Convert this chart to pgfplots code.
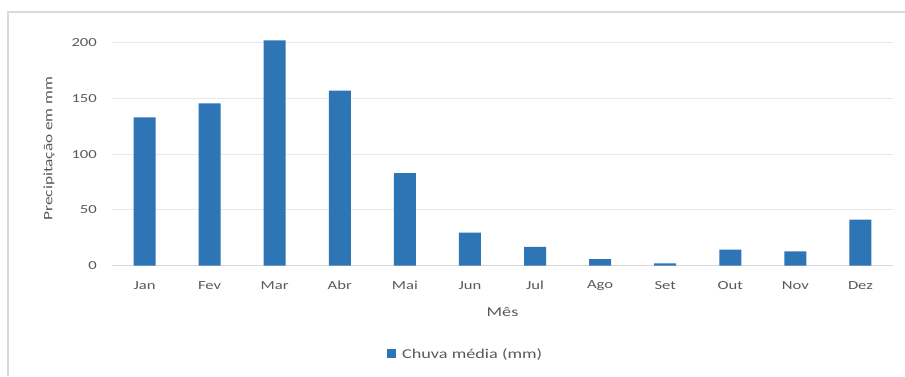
\documentclass[border=0pt]{standalone}
\usepackage{pgfplots}
\pgfplotsset{compat=1.18}
\usepackage{fontspec}
\setmainfont{Carlito}[FakeStretch=1.35]
\definecolor{barblue}{HTML}{2E75B6}
\definecolor{txtgray}{HTML}{595959}
\definecolor{gridgray}{HTML}{E8E8E8}
\definecolor{framegray}{HTML}{D9D9D9}
\begin{document}
\begin{tikzpicture}[x=1pt,y=1pt]
\path[use as bounding box] (0,0) rectangle (905,376);
% chart frame
\draw[framegray, line width=1.2pt] (8,0) -- (8,364) -- (905,364);
\begin{axis}[
  at={(112pt,110.3pt)}, anchor=south west,
  scale only axis, width=781pt, height=228.6pt,
  ymin=0, ymax=205, xmin=-0.5, xmax=11.5,
  ybar, bar width=22pt,
  xtick={0,...,11},
  xticklabels={Jan,Fev,Mar,Abr,Mai,Jun,Jul,Ago,Set,Out,Nov,Dez},
  ytick={0,50,100,150,200},
  ymajorgrids, grid style={gridgray, line width=0.9pt},
  axis x line*=bottom, axis y line*=left,
  x axis line style={framegray, line width=0.9pt, -},
  y axis line style={draw=none},
  major tick length=0pt,
  /pgf/number format/assume math mode=true,
  tick label style={text=txtgray, font=\fontsize{12.3}{14}\selectfont},
  yticklabel style={anchor=east, inner sep=0pt, xshift=-15pt},
  xticklabel style={anchor=center, inner sep=0pt, yshift=-20pt},
  xlabel={Mês},
  ylabel={Precipitação em mm},
  every axis x label/.style={at={(axis description cs:0.5,-0.201)}, anchor=center, text=txtgray, font=\fontsize{13.5}{15}\selectfont},
  every axis y label/.style={at={(axis description cs:-0.0807,0.512)}, rotate=90, anchor=center, text=txtgray, font=\fontsize{12.8}{15}\selectfont},
  legend style={draw=none, fill=none, at={(axis description cs:0.352,-0.386)}, anchor=west, inner sep=0pt, font=\fontsize{13.5}{15}\selectfont, text=txtgray},
  legend image code/.code={\fill[barblue] (0pt,-4.5pt) rectangle (9pt,4.5pt); \path (13pt,0pt);},
]
\addplot[draw=none, fill=barblue] coordinates {
  (0,133) (1,145.5) (2,202) (3,157) (4,83) (5,29.6)
  (6,16.8) (7,6) (8,2.1) (9,14.4) (10,12.9) (11,41.3)
};
\addlegendentry{Chuva média (mm)}
\end{axis}
\end{tikzpicture}
\end{document}
